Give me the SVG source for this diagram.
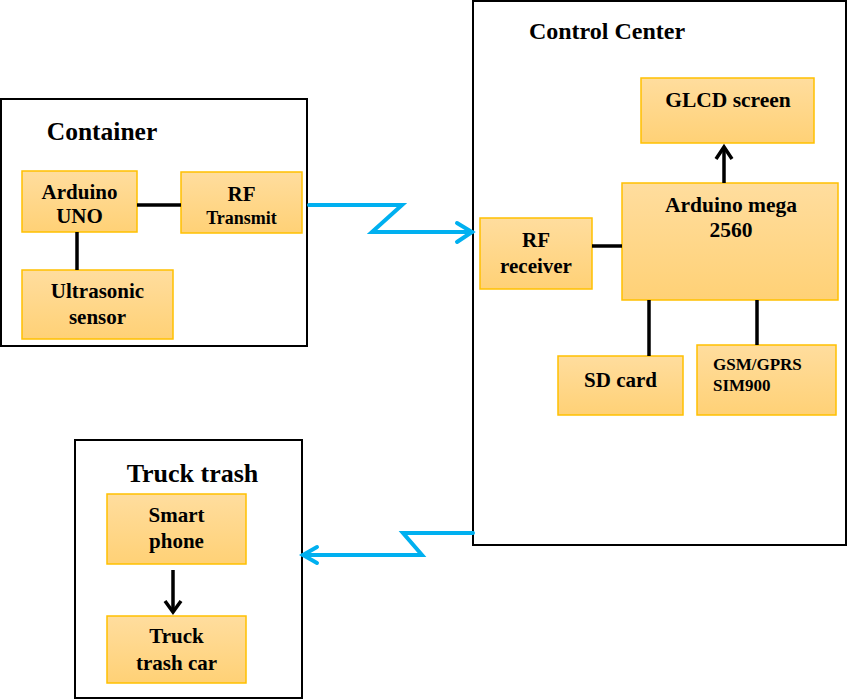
<svg xmlns="http://www.w3.org/2000/svg" width="850" height="699" viewBox="0 0 850 699">
<defs>
<linearGradient id="g" x1="0" y1="0" x2="0" y2="1">
<stop offset="0" stop-color="#FFDD9E"/>
<stop offset="1" stop-color="#FFD176"/>
</linearGradient>
</defs>
<style>
.frame{fill:#fff;stroke:#000;stroke-width:2}
.box{fill:url(#g);stroke:#FFC000;stroke-width:1.5}
.t{font-family:"Liberation Serif","Times New Roman",serif;font-weight:bold;fill:#000;text-anchor:middle}
.title{font-size:24px}
.b{font-size:21px}
.s{font-size:18px}
.link{stroke:#000;stroke-width:3.5;fill:none}
.blue{stroke:#00B0F0;stroke-width:4;fill:none;stroke-linejoin:miter;stroke-linecap:round}
</style>
<rect width="850" height="699" fill="#fff"/>
<g id="container">
<rect class="frame" x="1" y="99" width="306" height="247"/>
<text class="t title" x="102" y="140" style="font-size:25.5px">Container</text>
</g>
<g id="control-center">
<rect class="frame" x="473" y="1" width="373" height="544"/>
<text class="t title" x="607" y="39">Control Center</text>
</g>
<g id="truck-trash">
<rect class="frame" x="75" y="440" width="227" height="258"/>
<text class="t title" x="192.5" y="482" style="font-size:26px">Truck trash</text>
</g>
<g id="arduino-uno">
<rect class="box" x="22" y="171" width="115" height="61"/>
<text class="t b" x="79.5" y="199">Arduino</text>
<text class="t b" x="79.5" y="223">UNO</text>
</g>
<g id="rf-transmit">
<rect class="box" x="181" y="172" width="121" height="61"/>
<text class="t b" x="241.5" y="201">RF</text>
<text class="t s" x="241.5" y="224">Transmit</text>
</g>
<g id="ultrasonic">
<rect class="box" x="22" y="270" width="151" height="69"/>
<text class="t b" x="97.5" y="298">Ultrasonic</text>
<text class="t b" x="97.5" y="324">sensor</text>
</g>
<g id="glcd">
<rect class="box" x="641" y="78" width="173" height="65"/>
<text class="t b" x="728" y="107" style="font-size:21.5px">GLCD screen</text>
</g>
<g id="arduino-mega">
<rect class="box" x="622" y="183" width="216" height="117"/>
<text class="t b" x="731" y="212" style="font-size:21.5px">Arduino mega</text>
<text class="t b" x="731" y="237" style="font-size:21.5px">2560</text>
</g>
<g id="rf-receiver">
<rect class="box" x="480" y="218" width="112" height="71"/>
<text class="t b" x="536" y="247">RF</text>
<text class="t b" x="536" y="273">receiver</text>
</g>
<g id="sd-card">
<rect class="box" x="558" y="356" width="125" height="59"/>
<text class="t b" x="620.5" y="387">SD card</text>
</g>
<g id="gsm">
<rect class="box" x="697" y="345" width="139" height="70"/>
<text class="t" style="font-size:17px;text-anchor:start" x="713" y="370">GSM/GPRS</text>
<text class="t" style="font-size:17px;text-anchor:start" x="713" y="391">SIM900</text>
</g>
<g id="smart-phone">
<rect class="box" x="107" y="494" width="139" height="70"/>
<text class="t b" x="176.5" y="522">Smart</text>
<text class="t b" x="176.5" y="548">phone</text>
</g>
<g id="truck-car">
<rect class="box" x="107" y="616" width="139" height="67"/>
<text class="t b" x="176.5" y="643">Truck</text>
<text class="t b" x="176.5" y="670">trash car</text>
</g>
<g id="connectors">
<line class="link" x1="137" y1="205" x2="181" y2="205"/>
<line class="link" x1="77" y1="232" x2="77" y2="270"/>
<line class="link" x1="592" y1="246" x2="622" y2="246"/>
<line class="link" x1="649" y1="300" x2="649" y2="356"/>
<line class="link" x1="757" y1="300" x2="757" y2="345"/>
<line class="link" x1="724" y1="183" x2="724" y2="148"/>
<polyline class="link" points="716,159 724,147 732,159" style="stroke-linejoin:miter"/>
<line class="link" x1="173" y1="570" x2="173" y2="611"/>
<polyline class="link" points="165,601 173,612 181,601"/>
<polyline class="blue" points="309,205 402,205 372,232 472,232"/>
<polyline class="blue" points="457,223 472,232 457,242"/>
<polyline class="blue" points="473,533 403,533 422,555 303,555"/>
<polyline class="blue" points="317,547 303,555 317,563"/>
</g>
</svg>
